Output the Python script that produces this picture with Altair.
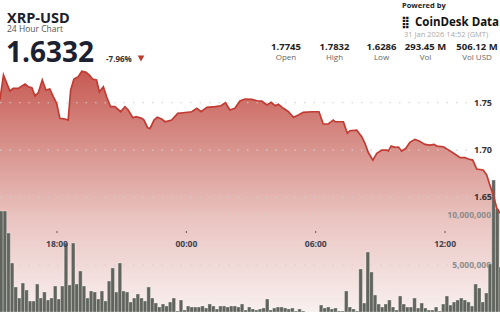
import altair as alt
import pandas as pd

# ---------------- data ----------------
price_times = ["15:21","15:31","15:49","15:58","16:12","16:31","16:40","16:50","16:59","17:08",
               "17:19","17:29","17:40","17:50","17:59","18:08","18:22","18:31","18:38","18:47",
               "18:59","19:09","19:21","19:30","19:39","19:50","19:58","20:09","20:18","20:29",
               "20:41","20:57","21:09","21:18","21:31","21:40","21:56","22:02","22:12","22:19",
               "22:30","22:39","22:51","23:01","23:19","23:36","23:51","00:15","00:29","00:41",
               "00:57","01:20","01:36","01:49","02:01","02:15","02:29","02:43","03:02","03:16",
               "03:30","03:44","03:56","04:07","04:16","04:30","04:44","04:58","05:12","05:25",
               "05:49","06:09","06:21","06:35","06:49","06:54","07:17","07:28","07:35","07:54",
               "08:08","08:17","08:26","08:39","08:50","09:04","09:18","09:22","09:30","09:41",
               "09:50","09:59","10:11","10:22","10:36","10:48","11:04","11:18","11:29","11:37",
               "11:55","12:14","12:28","12:42","12:55","13:05","13:17","13:28","13:46","13:56",
               "14:03","14:14","14:24","14:33"]
prices = [1.7529,1.7793,1.7624,1.7652,1.7652,1.7698,1.7669,1.7659,1.7571,1.7606,
          1.7740,1.7634,1.7645,1.7563,1.7494,1.7335,1.7328,1.7317,1.7634,1.7751,
          1.7775,1.7832,1.7821,1.7793,1.7751,1.7740,1.7616,1.7669,1.7563,1.7458,
          1.7458,1.7405,1.7458,1.7423,1.7341,1.7352,1.7335,1.7317,1.7236,1.7229,
          1.7317,1.7346,1.7328,1.7299,1.7317,1.7388,1.7394,1.7405,1.7441,1.7405,
          1.7451,1.7458,1.7468,1.7500,1.7423,1.7441,1.7518,1.7539,1.7536,1.7521,
          1.7518,1.7476,1.7504,1.7468,1.7483,1.7441,1.7405,1.7346,1.7370,1.7399,
          1.7405,1.7405,1.7275,1.7275,1.7317,1.7299,1.7299,1.7177,1.7204,1.7211,
          1.7141,1.7071,1.6976,1.6894,1.6965,1.7000,1.7000,1.6989,1.7042,1.7029,
          1.7032,1.6989,1.7018,1.7081,1.7113,1.7095,1.7060,1.7053,1.7060,1.7042,
          1.7035,1.6989,1.6955,1.6919,1.6919,1.6905,1.6894,1.6799,1.6789,1.6736,
          1.6648,1.6524,1.6384,1.6332]

# 10-minute volume bars (millions), first bar starts 15:20
bar_start = "15:20"
volumes = [10.4,10.4,8.2,5.2,2.8,1.7,3.2,2.5,1.4,1.4,
           3.1,1.7,2.3,1.5,1.7,2.9,1.6,2.9,7.2,3.0,
           7.2,3.1,4.4,2.9,1.7,2.4,2.3,1.6,2.4,1.4,
           3.4,4.7,2.3,5.2,2.4,2.3,1.3,1.7,2.1,1.7,
           1.4,2.8,1.7,1.2,0.8,1.1,0.9,1.3,1.7,0.4,
           1.5,0.5,0.9,0.8,0.8,0.8,0.9,0.7,1.1,0.9,
           0.6,0.9,0.9,0.8,0.9,0.9,0.8,1.1,0.5,0.8,
           0.6,0.5,0.6,0.7,1.6,0.5,0.7,0.8,0.8,0.7,
           0.6,0.7,0.4,0.6,0.4,0.2,0.1,0.1,0.3,1.0,
           0.7,0.8,0.6,0.7,0.4,0.4,2.4,0.8,0.6,0.4,
           4.6,1.2,6.3,4.3,2.0,1.1,0.8,1.1,1.5,0.8,
           0.5,1.9,1.1,0.8,0.8,1.7,0.7,1.2,0.7,0.5,
           0.5,0.8,0.4,1.1,1.9,1.0,1.3,1.5,1.7,1.5,
           1.3,0.9,3.1,2.7,1.3,2.2,5.1,13.5,10.6,4.8]

price_ticks = [1.65, 1.70, 1.75]
price_tick_labels = ["1.65", "1.70", "1.75"]
vol_ticks = [5, 10]
vol_tick_labels = ["5,000,000", "10,000,000"]
time_ticks = ["18:00", "00:00", "06:00", "12:00"]

stat_values = ["1.7745", "1.7832", "1.6286", "293.45 M", "506.12 M"]
stat_labels = ["Open", "High", "Low", "Vol", "Vol USD"]

# ---------------- helpers ----------------
def to_hours(t):
    h, m = map(int, t.split(":"))
    v = h + m / 60
    return v + 24 if v < 15 else v

FONT = "Open Sans"
W, H = 500, 312
P_MIN, P_MAX = 1.5288, 1.8586

xs = alt.Scale(domain=[15.356, 38.547], nice=False, zero=False)
ps = alt.Scale(domain=[P_MIN, P_MAX], nice=False, zero=False)
vs = alt.Scale(domain=[0.3, 31.5], nice=False, zero=False)

price_df = pd.DataFrame({"h": [to_hours(t) for t in price_times], "p": prices})
b0 = to_hours(bar_start)
bar_df = pd.DataFrame({"h0": [b0 + k / 6 for k in range(len(volumes))], "v": volumes})
bar_df["h1"] = bar_df["h0"] + 1 / 6

pt_df = pd.DataFrame({"p": price_ticks, "lab": price_tick_labels})
vt_df = pd.DataFrame({"v": vol_ticks, "lab": vol_tick_labels})
tt_df = pd.DataFrame({"h": [to_hours(t) for t in time_ticks], "lab": time_ticks})

X = alt.X("h:Q", scale=xs, axis=None)

grad = alt.Gradient(
    gradient="linear", x1=0, x2=0, y1=0, y2=1,
    stops=[alt.GradientStop(color="#c65a52", offset=0),
           alt.GradientStop(color="#d8908a", offset=0.3),
           alt.GradientStop(color="#eac5c1", offset=0.62),
           alt.GradientStop(color="#f8f0ef", offset=1)])

area = alt.Chart(price_df).mark_area(clip=True, fill=grad, opacity=1).encode(
    x=X, y=alt.Y("p:Q", scale=ps, axis=None), y2=alt.datum(P_MIN))

pgrid = alt.Chart(pt_df).mark_rule(color="#cfcfcf", strokeDash=[1.5, 8], strokeWidth=1.2).encode(
    y=alt.Y("p:Q", scale=ps, axis=None), x=alt.value(0), x2=alt.value(468))
vgrid = alt.Chart(vt_df).mark_rule(color="#d8cccc", strokeDash=[1.5, 8], strokeWidth=1.2).encode(
    y=alt.Y("v:Q", scale=vs, axis=None), x=alt.value(0), x2=alt.value(448))

vlab = alt.Chart(vt_df).mark_text(align="right", baseline="middle", font=FONT, fontSize=8.5,
                                  fontWeight="bold", color="#8c8c8c").encode(
    y=alt.Y("v:Q", scale=vs, axis=None), x=alt.value(491), text="lab:N")

bars = alt.Chart(bar_df).mark_rect(clip=True, color="#60645d", stroke="#ffffff",
                                   strokeWidth=0.5, strokeOpacity=0.6).encode(
    x=alt.X("h0:Q", scale=xs, axis=None), x2="h1:Q",
    y=alt.Y("v:Q", scale=vs, axis=None), y2=alt.value(H))

line = alt.Chart(price_df).mark_line(clip=True, color="#c23b32", strokeWidth=1.7).encode(
    x=X, y=alt.Y("p:Q", scale=ps, axis=None))

plab = alt.Chart(pt_df).mark_text(align="right", baseline="middle", font=FONT, fontSize=9,
                                  fontWeight="bold", color="#333333").encode(
    y=alt.Y("p:Q", scale=ps, axis=None), x=alt.value(492), text="lab:N")

tdot = alt.Chart(tt_df).mark_rule(color="#555555", strokeWidth=1).encode(
    x=X, y=alt.value(231), y2=alt.value(233))
tlab = alt.Chart(tt_df).mark_text(baseline="middle", font=FONT, fontSize=8.5,
                                  fontWeight="bold", color="#3a4250").encode(
    x=X, y=alt.value(244), text="lab:N")

one = pd.DataFrame({"a": [0]})

def label(txt, x, y, size, weight="normal", color="#1b2130", align="left", font=FONT):
    return alt.Chart(one).mark_text(text=txt, align=align, baseline="alphabetic", font=font,
                                    fontSize=size, fontWeight=weight, color=color).encode(
        x=alt.value(x), y=alt.value(y))

t_title = label("XRP-USD", 7, 23, 14.5, "bold")
t_sub = label("24 Hour Chart", 7, 32, 8.5, color="#555555")
t_price = label("1.6332", 6, 62, 28, "bold")
t_pct = label("-7.96%", 106, 61.5, 8, "bold", color="#333333")
tri = alt.Chart(one).mark_point(shape="triangle-down", filled=True, size=45, color="#c0392b",
                                opacity=1).encode(x=alt.value(141), y=alt.value(58.5))

t_pow = label("Powered by", 402, 7.5, 7.5, "bold", color="#222222")
t_logo = label("⣿", 401, 25.5, 12, "bold", color="#111111", font="DejaVu Sans")
t_cd = label("CoinDesk Data", 415, 25.5, 11.5, "bold", color="#111111")
t_date = label("31 Jan 2026 14:52 (GMT)", 404, 36.5, 7.5, color="#aaaaaa")

stat_centers = [286, 334.5, 381.5, 425.5, 477]
stats = []
for v, l, cx in zip(stat_values, stat_labels, stat_centers):
    stats.append(label(v, cx, 50, 9.5, "bold", color="#222222", align="center"))
    stats.append(label(l, cx, 60, 8, color="#666666", align="center"))

chart = alt.layer(
    area, pgrid, vgrid, vlab, bars, line, plab, tdot, tlab,
    t_title, t_sub, t_price, t_pct, tri, t_pow, t_logo, t_cd, t_date, *stats
).resolve_scale(y="independent", x="independent").properties(
    width=W, height=H, padding=0, autosize=alt.AutoSizeParams(type="none"),
    background="#ffffff"
).configure_view(stroke=None)

chart.save("out.html", embed_options={"renderer": "svg", "actions": False})
